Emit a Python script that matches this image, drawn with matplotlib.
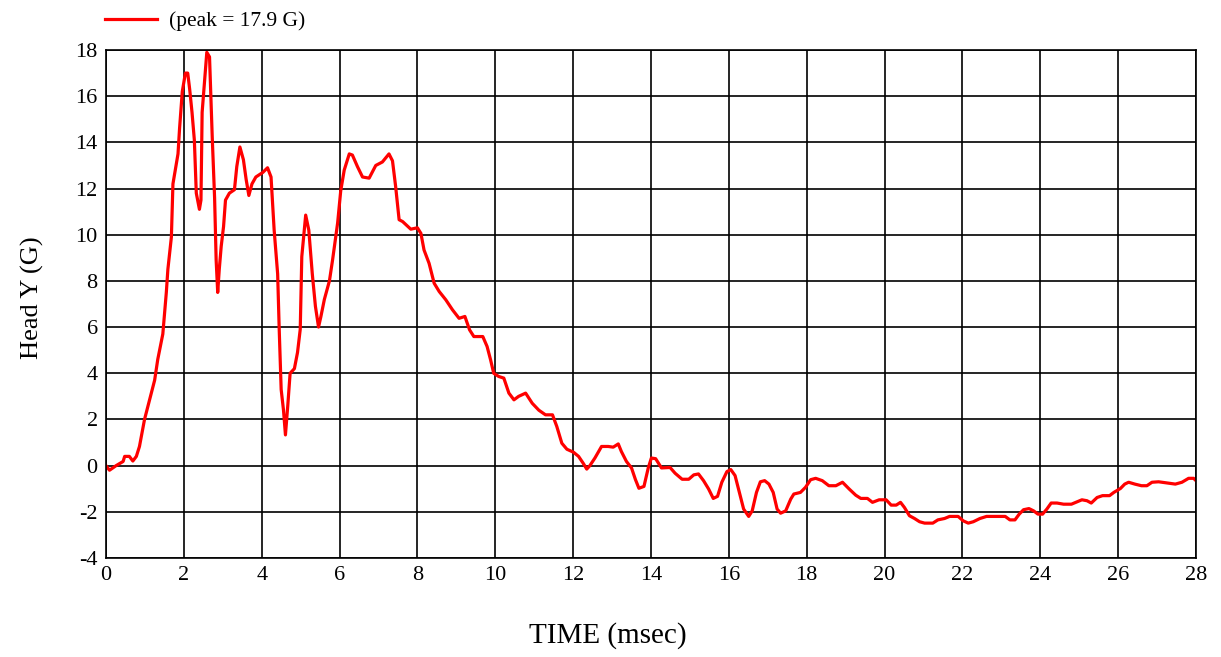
import numpy as np
import matplotlib
matplotlib.use("Agg")
from matplotlib import pyplot as plt

# time (msec) and head Y acceleration (G)
time_ms = [0.0, 0.09, 0.26, 0.44, 0.48, 0.6, 0.69, 0.78, 0.86, 0.99, 1.12, 1.25, 1.33, 1.46,
           1.55, 1.59, 1.68, 1.72, 1.85, 1.89, 1.96, 2.04, 2.1, 2.15, 2.21, 2.27, 2.32, 2.4,
           2.44, 2.47, 2.53, 2.59, 2.66, 2.73, 2.79, 2.83, 2.87, 2.91, 2.96, 3.02, 3.07, 3.17,
           3.3, 3.36, 3.44, 3.53, 3.6, 3.67, 3.75, 3.85, 4.03, 4.15, 4.24, 4.32, 4.41, 4.45,
           4.5, 4.56, 4.61, 4.67, 4.73, 4.84, 4.92, 4.99, 5.03, 5.13, 5.21, 5.3, 5.38, 5.46,
           5.52, 5.61, 5.74, 5.82, 5.95, 6.03, 6.12, 6.25, 6.33, 6.46, 6.59, 6.76, 6.93, 7.1,
           7.27, 7.36, 7.44, 7.53, 7.62, 7.83, 8.0, 8.09, 8.17, 8.3, 8.43, 8.56, 8.73, 8.9,
           9.07, 9.22, 9.34, 9.45, 9.68, 9.79, 9.88, 9.96, 10.09, 10.22, 10.35, 10.48, 10.6,
           10.78, 10.95, 11.12, 11.29, 11.47, 11.58, 11.71, 11.84, 12.01, 12.14, 12.26, 12.35,
           12.43, 12.56, 12.73, 12.9, 13.03, 13.16, 13.24, 13.37, 13.5, 13.6, 13.69, 13.82,
           13.93, 14.01, 14.12, 14.27, 14.49, 14.62, 14.8, 14.97, 15.1, 15.22, 15.35, 15.48,
           15.6, 15.71, 15.82, 15.95, 16.05, 16.16, 16.27, 16.38, 16.51, 16.6, 16.71, 16.81,
           16.92, 17.03, 17.14, 17.24, 17.33, 17.46, 17.59, 17.67, 17.84, 17.97, 18.1, 18.23,
           18.4, 18.57, 18.75, 18.92, 19.09, 19.26, 19.39, 19.56, 19.69, 19.86, 20.04, 20.17,
           20.3, 20.41, 20.51, 20.64, 20.77, 20.9, 21.03, 21.24, 21.37, 21.54, 21.67, 21.89,
           22.02, 22.15, 22.28, 22.45, 22.62, 22.84, 23.1, 23.22, 23.35, 23.46, 23.57, 23.71,
           23.83, 23.94, 24.06, 24.17, 24.28, 24.43, 24.6, 24.8, 24.94, 25.07, 25.2, 25.31,
           25.46, 25.6, 25.78, 25.89, 26.06, 26.17, 26.27, 26.43, 26.6, 26.74, 26.87, 27.04,
           27.26, 27.47, 27.64, 27.81, 27.94, 28.0]
head_y = [0.0, -0.2, 0.0, 0.18, 0.4, 0.4, 0.2, 0.4, 0.83, 2.0, 2.85, 3.7, 4.6, 5.7,
          7.5, 8.5, 9.9, 12.2, 13.5, 14.6, 16.2, 17.0, 17.0, 16.3, 15.3, 14.1, 11.8, 11.1,
          11.5, 15.3, 16.6, 17.9, 17.7, 14.2, 11.6, 8.9, 7.5, 8.5, 9.5, 10.35, 11.5, 11.8,
          11.95, 12.95, 13.8, 13.25, 12.4, 11.7, 12.2, 12.5, 12.7, 12.9, 12.5, 10.2, 8.3, 5.9,
          3.3, 2.4, 1.33, 2.6, 4.0, 4.2, 4.9, 5.9, 9.05, 10.85, 10.2, 8.3, 6.9, 6.0,
          6.45, 7.2, 8.0, 8.9, 10.5, 11.9, 12.8, 13.5, 13.45, 12.95, 12.5, 12.45, 13.0, 13.15,
          13.5, 13.2, 12.1, 10.65, 10.57, 10.24, 10.3, 10.06, 9.34, 8.76, 7.9, 7.54, 7.18, 6.75,
          6.38, 6.46, 5.88, 5.59, 5.59, 5.16, 4.58, 4.0, 3.86, 3.79, 3.14, 2.85, 3.0,
          3.14, 2.7, 2.4, 2.2, 2.2, 1.7, 0.97, 0.71, 0.58, 0.4, 0.1, -0.15,
          0.0, 0.33, 0.83, 0.83, 0.8, 0.94, 0.61, 0.18, -0.1, -0.6, -0.98, -0.9,
          -0.1, 0.33, 0.3, -0.1, -0.08, -0.33, -0.59, -0.59, -0.4, -0.36, -0.65, -1.01,
          -1.42, -1.33, -0.72, -0.26, -0.17, -0.43, -1.16, -1.88, -2.2, -1.96, -1.16, -0.7,
          -0.65, -0.8, -1.16, -1.88, -2.06, -1.96, -1.45, -1.23, -1.16, -0.94, -0.61, -0.55,
          -0.65, -0.87, -0.87, -0.72, -1.01, -1.28, -1.42, -1.42, -1.59, -1.48, -1.48, -1.71,
          -1.71, -1.59, -1.81, -2.17, -2.29, -2.43, -2.49, -2.49, -2.35, -2.29, -2.2, -2.2,
          -2.39, -2.49, -2.43, -2.29, -2.2, -2.2, -2.2, -2.35, -2.35, -2.1, -1.91, -1.86,
          -1.96, -2.1, -2.1, -1.88, -1.62, -1.62, -1.67, -1.67, -1.57, -1.48, -1.52, -1.62,
          -1.38, -1.3, -1.3, -1.16, -0.99, -0.8, -0.72, -0.8, -0.87, -0.87, -0.72, -0.7,
          -0.75, -0.8, -0.72, -0.55, -0.55, -0.65]

x_ticks = list(range(0, 29, 2))
y_ticks = list(range(-4, 19, 2))

plt.rcParams['font.family'] = ['Liberation Serif', 'DejaVu Serif']
plt.rcParams['axes.unicode_minus'] = False

fig = plt.figure(figsize=(12.21, 6.57), dpi=100)
ax = fig.add_axes([0.0868, 0.1507, 0.8927, 0.7732])

ax.plot(time_ms, head_y, color='red', linewidth=2.3, label='(peak = 17.9 G)')

ax.set_xlim(0, 28)
ax.set_ylim(-4, 18)
ax.set_xticks(x_ticks)
ax.set_yticks(y_ticks)
ax.tick_params(length=0, labelsize=16, pad=6)
ax.grid(True, color='black', linewidth=1.2)
for s in ax.spines.values():
    s.set_color('black')
    s.set_linewidth(1.2)

ax.set_xlabel('TIME (msec)', fontsize=21)
ax.xaxis.set_label_coords(0.4605, -0.126)
ax.set_ylabel('Head Y (G)', fontsize=19)
ax.yaxis.set_label_coords(-0.057, 0.512)

ax.legend(loc='lower left', bbox_to_anchor=(-0.005, 1.028), frameon=False,
          fontsize=15.5, handlelength=2.4, handletextpad=0.6,
          borderaxespad=0, borderpad=0.2)

fig.savefig('out.png', dpi=100)
